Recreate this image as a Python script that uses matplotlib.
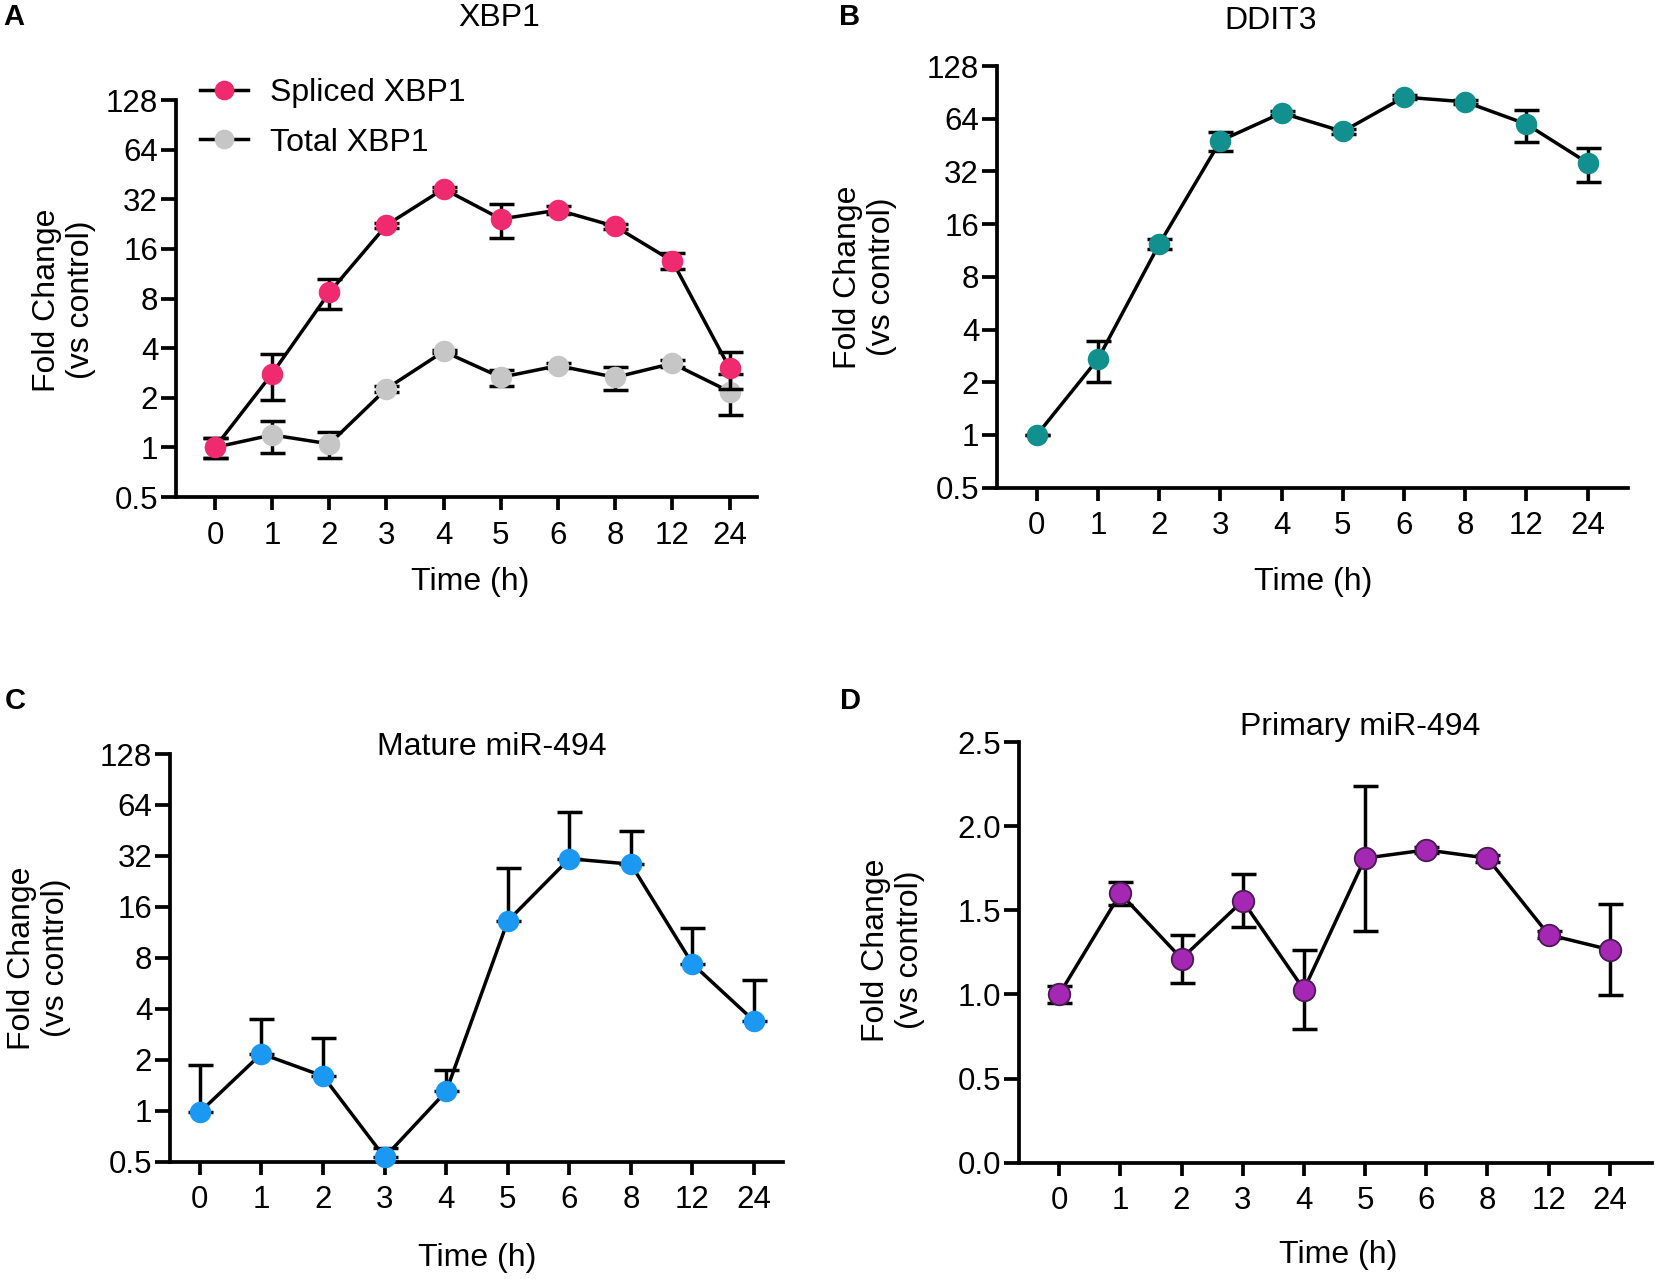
import matplotlib
matplotlib.use("Agg")
import matplotlib.pyplot as plt
from matplotlib.ticker import FixedLocator, NullLocator
import numpy as np

plt.rcParams['font.family'] = ['Liberation Sans', 'DejaVu Sans']

# ---------------- data ----------------
time_labels = ['0', '1', '2', '3', '4', '5', '6', '8', '12', '24']

spliced_xbp1 = [1.0, 2.80, 8.7, 22.3, 37.0, 24.3, 27.5, 21.9, 13.5, 3.03]
spliced_xbp1_err = [0.14, 0.86, 1.8, 0.8, 1.0, 5.8, 1.5, 0.8, 1.5, 0.78]
total_xbp1 = [1.0, 1.19, 1.05, 2.27, 3.82, 2.66, 3.13, 2.66, 3.23, 2.18]
total_xbp1_err = [0.14, 0.26, 0.19, 0.1, 0.1, 0.3, 0.1, 0.42, 0.15, 0.6]

ddit3 = [1.0, 2.72, 12.3, 47.9, 69.0, 54.1, 85.0, 79.9, 59.6, 35.8]
ddit3_err = [0.0, 0.72, 0.8, 5.8, 1.5, 1.5, 2.0, 2.0, 12.5, 8.0]

mature_mir494 = [0.98, 2.17, 1.60, 0.53, 1.30, 13.2, 30.8, 28.6, 7.36, 3.39]
mature_mir494_err = [0.87, 1.3, 1.1, 0.07, 0.44, 13.9, 27.4, 16.6, 4.7, 2.5]

primary_mir494 = [1.0, 1.60, 1.213, 1.556, 1.029, 1.81, 1.859, 1.81, 1.355, 1.266]
primary_mir494_err = [0.053, 0.07, 0.143, 0.157, 0.236, 0.43, 0.02, 0.02, 0.02, 0.272]

log_ticks = [0.5, 1, 2, 4, 8, 16, 32, 64, 128]
log_tick_labels = ['0.5', '1', '2', '4', '8', '16', '32', '64', '128']
lin_ticks = [0.0, 0.5, 1.0, 1.5, 2.0, 2.5]
lin_tick_labels = ['0.0', '0.5', '1.0', '1.5', '2.0', '2.5']

# ---------------- style ----------------
W, H = 1655, 1279
fig = plt.figure(figsize=(W / 100, H / 100), dpi=100)

PINK = '#F02A6E'
GREY = '#C6C6C6'
TEAL = '#11908F'
BLUE = '#1A98F2'
PURPLE = '#A428B4'

FS_TICK = 22.5
FS_LAB = 23
LW = 2.5
MS = 15.5


def px_rect(left, right, top, bottom):
    return [left / W, 1 - bottom / H, (right - left) / W, (bottom - top) / H]


def style_axes(ax, xlim):
    for s in ['top', 'right']:
        ax.spines[s].set_visible(False)
    for s in ['left', 'bottom']:
        ax.spines[s].set_linewidth(2.7)
    x = np.arange(len(time_labels))
    ax.set_xticks(x)
    ax.set_xticklabels(time_labels)
    ax.set_xlim(*xlim)
    ax.tick_params(axis='x', length=9, width=2.7, pad=8, labelsize=FS_TICK)
    ax.tick_params(axis='y', length=11, width=2.7, pad=1.5, labelsize=FS_TICK)
    ax.tick_params(which='minor', length=0)


def log_axes(ax):
    ax.set_yscale('log', base=2)
    ax.set_ylim(0.5, 128)
    ax.yaxis.set_major_locator(FixedLocator(log_ticks))
    ax.set_yticklabels(log_tick_labels)
    ax.yaxis.set_minor_locator(NullLocator())


def draw_series(ax, y, err, color, label=None, upper_only=False, mec=None, z=3):
    x = np.arange(len(y))
    err = np.asarray(err)
    if upper_only:
        yerr = [np.zeros_like(err), err]
    else:
        yerr = err
    ax.errorbar(x, y, yerr=yerr, fmt='none', ecolor='black', elinewidth=LW,
                capsize=9, capthick=LW, zorder=z, clip_on=False)
    ax.plot(x, y, '-', color='black', lw=LW, zorder=z + 0.5, clip_on=False)
    ax.plot(x, y, 'o', color=color, mec=mec if mec else color,
            mew=1.3 if mec else 0, ms=MS, zorder=z + 1, clip_on=False)
    proxy, = ax.plot([], [], '-o', color='black', lw=LW, mfc=color,
                     mec=color, ms=MS * 0.85, label=label)
    return proxy


def ftext(x, y, s, **kw):
    fig.text(x / W, 1 - y / H, s, **kw)


# ---------------- panel A ----------------
axA = fig.add_axes(px_rect(175.5, 757, 100, 497))
style_axes(axA, (-0.69, 9.48))
log_axes(axA)
p_tot = draw_series(axA, total_xbp1, total_xbp1_err, GREY, 'Total XBP1', z=3)
p_spl = draw_series(axA, spliced_xbp1, spliced_xbp1_err, PINK, 'Spliced XBP1', z=6)
axA.legend(handles=[p_spl, p_tot], loc='center left', frameon=False,
           bbox_to_anchor=(200 / W, 1 - 118 / H), bbox_transform=fig.transFigure,
           fontsize=FS_LAB, handlelength=1.5, handletextpad=0.7,
           labelspacing=0.6, borderpad=0, borderaxespad=0)

# ---------------- panel B ----------------
axB = fig.add_axes(px_rect(996.5, 1628, 66, 487.6))
style_axes(axB, (-0.66, 9.66))
log_axes(axB)
draw_series(axB, ddit3, ddit3_err, TEAL)

# ---------------- panel C ----------------
axC = fig.add_axes(px_rect(169.7, 783, 754, 1161.6))
style_axes(axC, (-0.49, 9.47))
log_axes(axC)
draw_series(axC, mature_mir494, mature_mir494_err, BLUE, upper_only=True)

# ---------------- panel D ----------------
axD = fig.add_axes(px_rect(1018.8, 1652, 742, 1162.8))
style_axes(axD, (-0.66, 9.69))
axD.set_ylim(0, 2.5)
axD.yaxis.set_major_locator(FixedLocator(lin_ticks))
axD.set_yticklabels(lin_tick_labels)
draw_series(axD, primary_mir494, primary_mir494_err, PURPLE, mec='#4A1A52')

# ---------------- texts ----------------
ylab = 'Fold Change\n(vs control)'
for (x, y) in [(64, 300), (865, 277), (39, 958), (893, 950)]:
    ftext(x, y, ylab, rotation=90, ha='center', va='center',
          fontsize=FS_LAB, multialignment='center', linespacing=1.2)

for (x, y) in [(470, 582), (1313, 582), (477, 1258), (1338, 1255)]:
    ftext(x, y, 'Time (h)', ha='center', va='center', fontsize=FS_LAB)

for (x, y, s) in [(499, 18, 'XBP1'), (1271, 21, 'DDIT3'),
                  (492, 747, 'Mature miR-494'), (1360, 727, 'Primary miR-494')]:
    ftext(x, y, s, ha='center', va='center', fontsize=FS_LAB)

for (x, y, s) in [(14, 17, 'A'), (850, 17, 'B'), (15, 701, 'C'), (850, 701, 'D')]:
    ftext(x, y, s, ha='center', va='center', fontsize=21, fontweight='bold')

fig.savefig('out.png', dpi=100, facecolor='white')
